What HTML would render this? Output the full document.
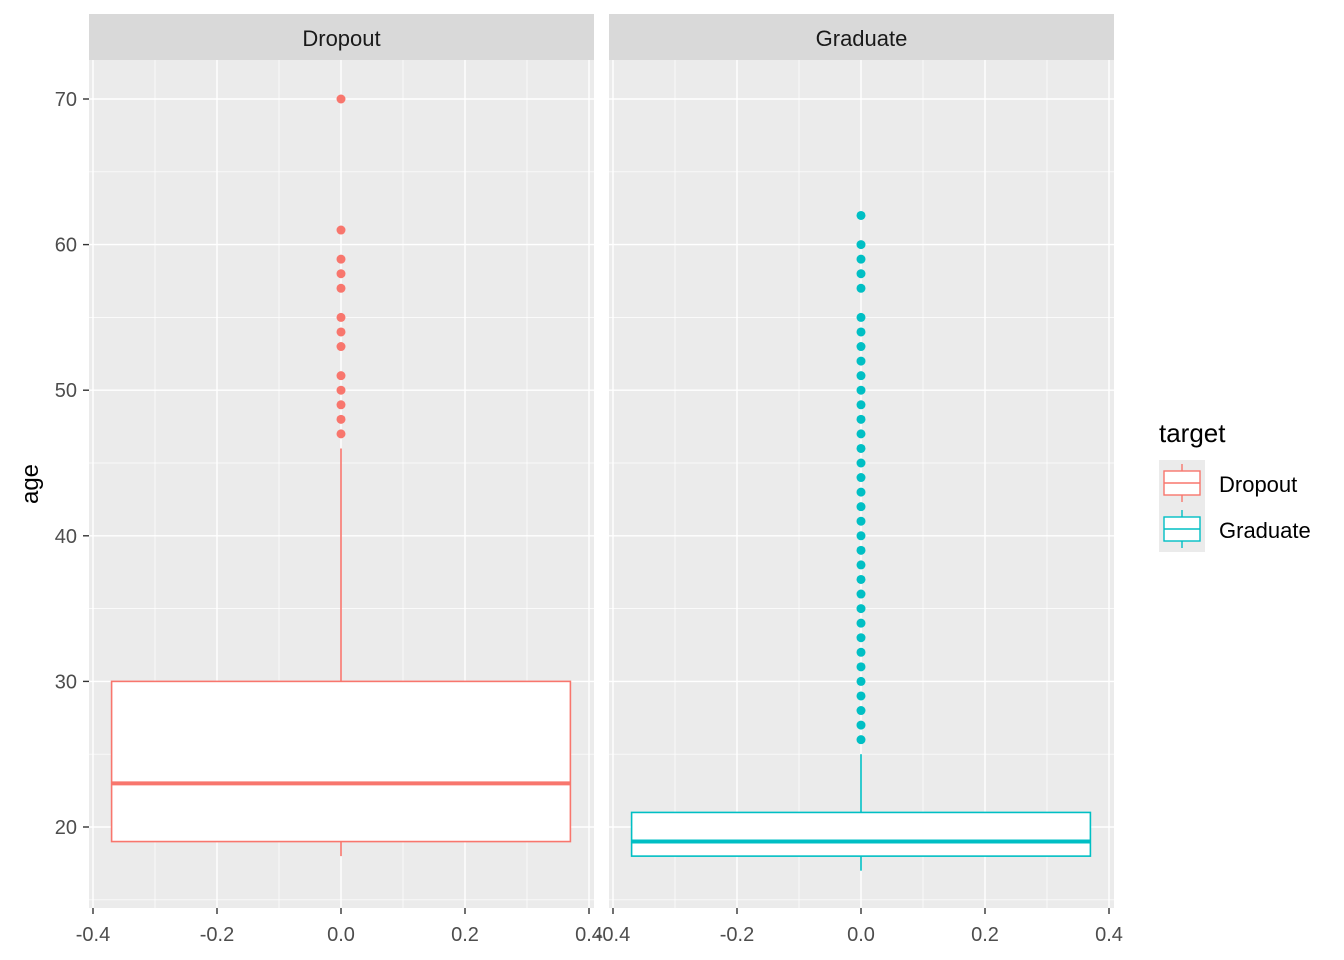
<!DOCTYPE html>
<html><head><meta charset="utf-8"><style>
html,body{margin:0;padding:0;background:#fff;}
svg{display:block;font-family:"Liberation Sans",Arial,sans-serif;}
</style></head><body>
<svg id="chart" width="1344" height="960" viewBox="0 0 1344 960"></svg>
<script>
const panels = ["Dropout","Graduate"];
const q1 = [19,18];
const medians = [23,19];
const q3 = [30,21];
const whiskerLow = [18,17];
const whiskerHigh = [46,25];
const outliersDropout = [47,48,49,50,51,53,54,55,57,58,59,61,70];
const outliersGraduate = [26,27,28,29,30,31,32,33,34,35,36,37,38,39,40,41,42,43,44,45,46,47,48,49,50,51,52,53,54,55,57,58,59,60,62];
const outliers = [outliersDropout, outliersGraduate];
const yTicks = [20,30,40,50,60,70];
const yMinor = [15,25,35,45,55,65];
const xTicks = [-0.4,-0.2,0.0,0.2,0.4];
const xTickLabels = ["-0.4","-0.2","0.0","0.2","0.4"];
const xMinor = [-0.3,-0.1,0.1,0.3];
const colors = ["#F8766D","#00BFC4"];

const NS="http://www.w3.org/2000/svg";
const svg=document.getElementById('chart');
function mk(tag,attrs,parent){const e=document.createElementNS(NS,tag);for(const k in attrs)e.setAttribute(k,attrs[k]);(parent||svg).appendChild(e);return e;}
const plotTop=60,plotBottom=908;
function y(v){return 827-(v-20)*14.56;}
const panelX=[89,609];
const panelW=505;
function xf(p,v){return panelX[p]+252+v*620;}

panels.forEach((name,p)=>{
  const g=mk('g',{});
  
  
  const bg=mk('rect',{x:panelX[p],y:plotTop,width:panelW,height:plotBottom-plotTop,fill:'#EBEBEB'},g);
  
  
  yMinor.forEach(v=>mk('line',{x1:panelX[p],x2:panelX[p]+panelW,y1:y(v),y2:y(v),stroke:'#fff','stroke-width':0.7},g));
  xMinor.forEach(v=>mk('line',{x1:xf(p,v),x2:xf(p,v),y1:plotTop,y2:plotBottom,stroke:'#fff','stroke-width':0.7},g));
  yTicks.forEach(v=>mk('line',{x1:panelX[p],x2:panelX[p]+panelW,y1:y(v),y2:y(v),stroke:'#fff','stroke-width':1.4},g));
  xTicks.forEach(v=>mk('line',{x1:xf(p,v),x2:xf(p,v),y1:plotTop,y2:plotBottom,stroke:'#fff','stroke-width':1.4},g));
  const st=mk('rect',{x:panelX[p],y:14,width:panelW,height:46,fill:'#D9D9D9'},g);
  
  
  const stt=mk('text',{x:panelX[p]+panelW/2,y:46,'text-anchor':'middle','font-size':22,fill:'#1A1A1A'},g);
  stt.textContent=name;
  
  
  const c=colors[p];
  const wl=mk('line',{x1:xf(p,0),x2:xf(p,0),y1:y(q3[p]),y2:y(whiskerHigh[p]),stroke:c,'stroke-width':1.6},g);
  
  
  const wl2=mk('line',{x1:xf(p,0),x2:xf(p,0),y1:y(q1[p]),y2:y(whiskerLow[p]),stroke:c,'stroke-width':1.6},g);
  
  
  const box=mk('rect',{x:xf(p,-0.37),y:y(q3[p]),width:0.74*620,height:y(q1[p])-y(q3[p]),fill:'#fff',stroke:c,'stroke-width':1.6},g);
  
  
  const med=mk('line',{x1:xf(p,-0.37),x2:xf(p,0.37),y1:y(medians[p]),y2:y(medians[p]),stroke:c,'stroke-width':4},g);
  
  
  outliers[p].forEach(v=>{
    const o=mk('circle',{cx:xf(p,0),cy:y(v),r:4.5,fill:c},g);
    
    
  });
  xTicks.forEach((v,i)=>{
    mk('line',{x1:xf(p,v),x2:xf(p,v),y1:plotBottom,y2:plotBottom+6,stroke:'#333','stroke-width':1.4},g);
    const t=mk('text',{x:xf(p,v),y:941,'text-anchor':'middle','font-size':20,fill:'#4D4D4D'},g);
    t.textContent=xTickLabels[i];
    
    
  });
});
yTicks.forEach(v=>{
  mk('line',{x1:83,x2:89,y1:y(v),y2:y(v),stroke:'#333','stroke-width':1.4});
  const t=mk('text',{x:77,y:y(v)+7,'text-anchor':'end','font-size':20,fill:'#4D4D4D'});
  t.textContent=v;
  
  
});
const yt=mk('text',{x:38,y:484,'text-anchor':'middle','font-size':24,fill:'#000',transform:'rotate(-90 38 484)'});
yt.textContent='age';


const lg=mk('g',{});


const lt=mk('text',{x:1159,y:442,'font-size':26,fill:'#000'},lg);
lt.textContent='target';


panels.forEach((name,i)=>{
  const y0=460+i*46;
  const e=mk('g',{},lg);
  
  
  mk('rect',{x:1159,y:y0,width:46,height:46,fill:'#EBEBEB'},e);
  mk('line',{x1:1182,x2:1182,y1:y0+4,y2:y0+42,stroke:colors[i],'stroke-width':1.4},e);
  mk('rect',{x:1164,y:y0+11,width:36,height:24,fill:'#fff',stroke:colors[i],'stroke-width':1.4},e);
  mk('line',{x1:1164,x2:1200,y1:y0+23,y2:y0+23,stroke:colors[i],'stroke-width':1.4},e);
  const t=mk('text',{x:1219,y:y0+32,'font-size':22,fill:'#000'},e);
  t.textContent=name;
});
</script>
</body></html>
